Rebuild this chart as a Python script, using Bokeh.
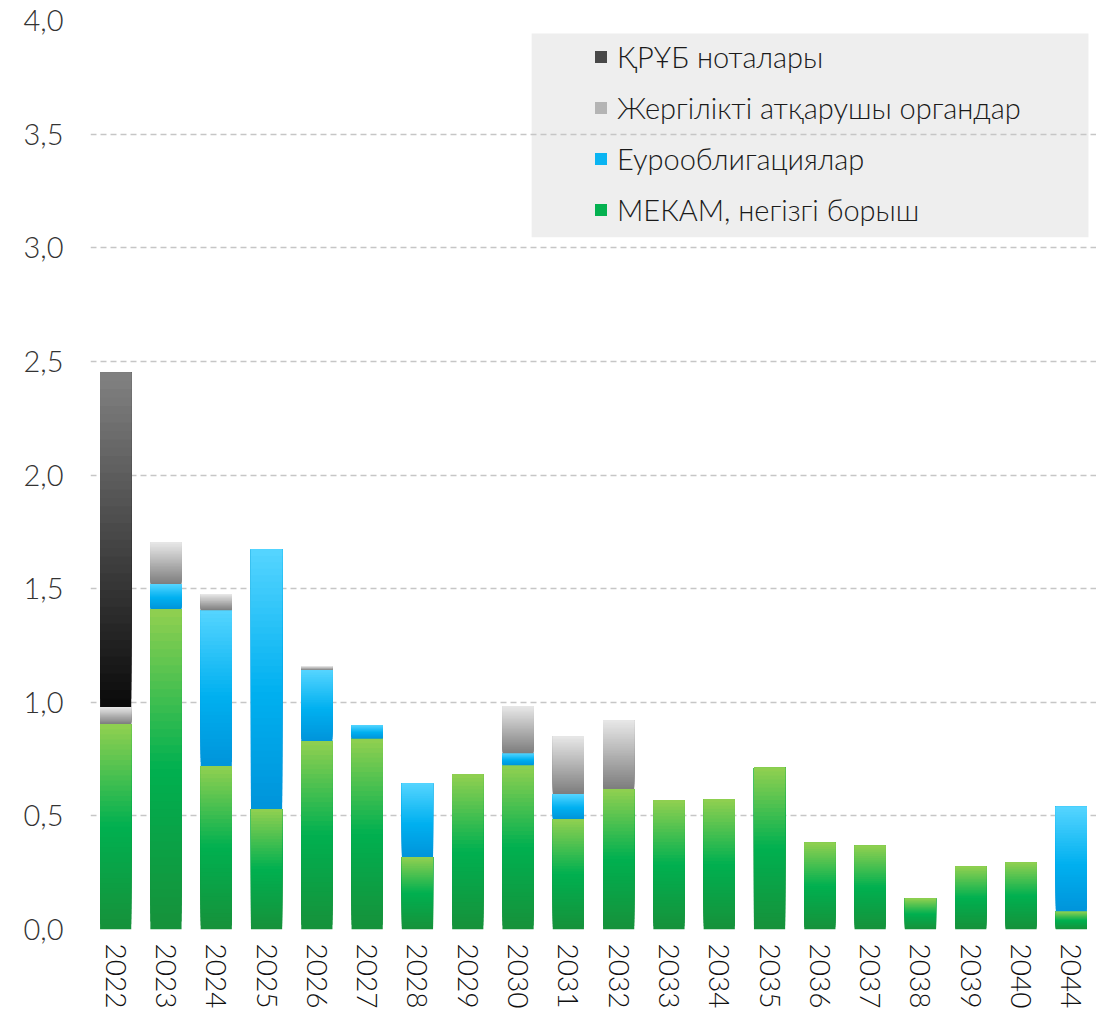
import numpy as np
from bokeh.plotting import figure
from bokeh.models import (FactorRange, Range1d, FixedTicker, CustomJSTickFormatter,
                          Legend, LegendItem, BoxAnnotation, ColumnDataSource)
from bokeh.embed import file_html
from bokeh.resources import INLINE

# ---------------- data ----------------
years = ["2022", "2023", "2024", "2025", "2026", "2027", "2028", "2029", "2030", "2031",
         "2032", "2033", "2034", "2035", "2036", "2037", "2038", "2039", "2040", "2044"]
mekam = [0.904, 1.410, 0.720, 0.530, 0.830, 0.840, 0.319, 0.684, 0.723, 0.486,
         0.618, 0.570, 0.574, 0.713, 0.383, 0.370, 0.137, 0.278, 0.296, 0.080]
euro = [0.0, 0.110, 0.685, 1.143, 0.312, 0.060, 0.325, 0.0, 0.053, 0.110,
        0.0, 0.0, 0.0, 0.0, 0.0, 0.0, 0.0, 0.0, 0.0, 0.460]
local_gov = [0.075, 0.184, 0.071, 0.0, 0.017, 0.0, 0.0, 0.0, 0.207, 0.255,
             0.303, 0.0, 0.0, 0.0, 0.0, 0.0, 0.0, 0.0, 0.0, 0.0]
notes = [1.472, 0.0, 0.0, 0.0, 0.0, 0.0, 0.0, 0.0, 0.0, 0.0,
         0.0, 0.0, 0.0, 0.0, 0.0, 0.0, 0.0, 0.0, 0.0, 0.0]
y_ticks = [0.0, 0.5, 1.0, 1.5, 2.0, 2.5, 3.0, 3.5, 4.0]

labels = ["МЕКАМ, негізгі борыш", "Еурооблигациялар",
          "Жергілікті атқарушы органдар", "ҚРҰБ ноталары"]
gradients = [
    [(0.0, "#17913a"), (0.5, "#00b050"), (1.0, "#92d050")],
    [(0.0, "#0094da"), (0.45, "#00b0f0"), (1.0, "#56d5ff")],
    [(0.0, "#7d7d7d"), (1.0, "#e8e8e8")],
    [(0.0, "#0a0a0a"), (1.0, "#828282")],
]
series_values = [mekam, euro, local_gov, notes]

FONT = "Lato Light"


def hex2rgb(h):
    h = h.lstrip("#")
    return np.array([int(h[i:i + 2], 16) for i in (0, 2, 4)], dtype=float)


def grad_color(stops, f):
    for (f0, c0), (f1, c1) in zip(stops[:-1], stops[1:]):
        if f <= f1:
            t = 0.0 if f1 == f0 else (f - f0) / (f1 - f0)
            c = hex2rgb(c0) * (1 - t) + hex2rgb(c1) * t
            return "#%02x%02x%02x" % tuple(int(round(v)) for v in c)
    return stops[-1][1]


p = figure(width=1096, height=1011,
           x_range=FactorRange(factors=years, range_padding=0),
           y_range=Range1d(0, 4),
           output_backend="svg", toolbar_location=None,
           min_border_left=90, min_border_right=0, min_border_top=20, min_border_bottom=81)
p.outline_line_color = None
p.background_fill_color = "white"
p.xgrid.grid_line_color = None
p.ygrid.grid_line_color = "#c6c6c6"
p.ygrid.grid_line_dash = "6 4"
p.ygrid.grid_line_width = 1.3

# legend background (under grid)
bg = BoxAnnotation(left=8.77, right=19.84, bottom=3.046, top=3.943,
                   fill_color="#eeeeee", fill_alpha=1.0, line_color=None, level="image")
p.add_layout(bg)

N = 40
bottoms = np.zeros(len(years))
renderers = []
legend_idx = []
for vals, stops in zip(series_values, gradients):
    xs, b0, t0, cols = [], [], [], []
    best = None
    for i, v in enumerate(vals):
        if v <= 0:
            continue
        b = bottoms[i]
        # each slice reaches the segment top; later slices cover earlier ones
        for j in range(N):
            xs.append(years[i])
            b0.append(b + v * j / N)
            t0.append(b + v)
            cols.append(grad_color(stops, (j + 0.5) / N))
        if best is None or v > vals[best]:
            best = i
    order = [i for i, v in enumerate(vals) if v > 0]
    idx = order.index(best) * N + N // 2
    src = ColumnDataSource(dict(x=xs, bottom=b0, top=t0, color=cols))
    r = p.vbar(x="x", bottom="bottom", top="top", width=0.62, source=src,
               fill_color="color", line_color=None)
    renderers.append(r)
    legend_idx.append(idx)
    bottoms = bottoms + np.array(vals)

items = [LegendItem(label=labels[k], renderers=[renderers[k]], index=legend_idx[k])
         for k in (3, 2, 1, 0)]
legend = Legend(items=items, location=(503, 702), padding=0, margin=0,
                spacing=16, glyph_width=15, glyph_height=15, label_standoff=9,
                label_text_font=FONT, label_text_font_size="29px",
                label_text_color="#1a1a1a",
                background_fill_alpha=0, border_line_color=None)
p.add_layout(legend)

# axes
p.yaxis.ticker = FixedTicker(ticks=y_ticks)
p.yaxis.formatter = CustomJSTickFormatter(code="return tick.toFixed(1).replace('.', ',');")
for ax in (p.xaxis[0], p.yaxis[0]):
    ax.axis_line_color = None
    ax.major_tick_line_color = None
    ax.minor_tick_line_color = None
    ax.major_tick_out = 0
    ax.major_tick_in = 0
    ax.major_label_text_font = FONT
p.yaxis.major_label_text_font_size = "29px"
p.yaxis.major_label_text_color = "#333333"
p.yaxis.major_label_standoff = 27
p.xaxis.major_label_text_font_size = "28px"
p.xaxis.major_label_text_color = "#111111"
p.xaxis.major_label_orientation = "vertical"
p.xaxis.major_label_standoff = 14

open("out.html", "w").write(file_html(p, INLINE))
